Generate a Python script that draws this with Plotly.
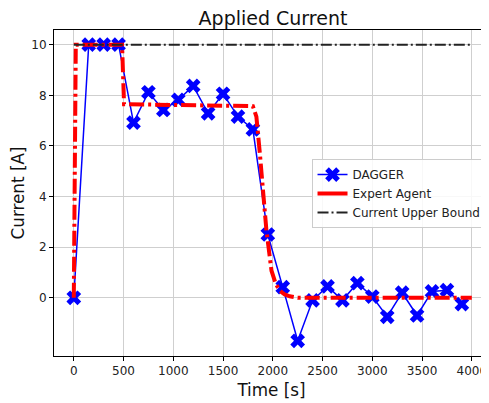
import plotly.graph_objects as go

# DAGGER policy samples
dagger_t = [0, 150, 300, 450, 600, 750, 900, 1050, 1200, 1350, 1500, 1650, 1800,
            1950, 2100, 2250, 2400, 2550, 2700, 2850, 3000, 3150, 3300, 3450, 3600, 3750, 3900]
dagger_i = [0.0, 10.0, 10.0, 10.0, 6.92, 8.12, 7.42, 7.82, 8.37, 7.29, 8.06, 7.16, 6.65,
            2.5, 0.42, -1.7, -0.1, 0.45, -0.1, 0.58, 0.05, -0.75, 0.2, -0.7, 0.25, 0.3, -0.25]

# Expert agent trajectory
expert_t = [0, 20, 485, 505, 1800, 1835, 1870, 1903, 1936, 1987, 2030, 2070, 2120, 2170, 2250, 4000]
expert_i = [0.0, 10.0, 10.0, 7.65, 7.57, 7.16, 5.7, 4.1, 2.66, 1.07, 0.55, 0.28, 0.13, 0.06, 0.0, 0.0]

# Upper bound
bound_t = [0, 4000]
bound_i = [10, 10]

x_ticks = [0, 500, 1000, 1500, 2000, 2500, 3000, 3500, 4000]
y_ticks = [0, 2, 4, 6, 8, 10]

FONT = "DejaVu Sans"

# The page body adds an 8px offset; the figure is sized to fit the window.
W, H = 481, 395

fig = go.Figure()
fig.add_trace(go.Scatter(
    x=dagger_t, y=dagger_i, mode="lines+markers", name="DAGGER",
    line=dict(color="blue", width=1.5),
    marker=dict(symbol="x", size=13, color="blue", line=dict(width=0)),
))
fig.add_trace(go.Scatter(
    x=expert_t, y=expert_i, mode="lines", name="Expert Agent", showlegend=False,
    line=dict(color="red", width=4, dash="15px,4px,3px,4px"),
))
fig.add_trace(go.Scatter(
    x=[None], y=[None], mode="lines", name="Expert Agent",
    line=dict(color="red", width=4),
))
fig.add_trace(go.Scatter(
    x=bound_t, y=bound_i, mode="lines", name="Current Upper Bound",
    line=dict(color="#222222", width=2, dash="11px,3px,2px,3px"),
))

axis_common = dict(
    showgrid=True, gridcolor="#cfcfcf", gridwidth=1,
    showline=True, linecolor="black", linewidth=1,
    ticks="outside", ticklen=4, tickcolor="black",
    tickfont=dict(family=FONT, size=12, color="#222"),
    zeroline=False, automargin=False,
)

fig.update_layout(
    width=W, height=H,
    margin=dict(l=46, r=0, t=22, b=47),
    paper_bgcolor="white", plot_bgcolor="white",
    font=dict(family=FONT, color="#222"),
    title=dict(text="Applied Current", x=(265 / W), xanchor="center",
               y=1 - 10.5 / H, yanchor="middle",
               font=dict(family=FONT, size=19, color="#111")),
    xaxis=dict(range=[-199, 4173], tickvals=x_ticks, mirror=True,
               title=dict(text="Time [s]", font=dict(family=FONT, size=16.8, color="#111"), standoff=6),
               **axis_common),
    yaxis=dict(range=[-2.30, 10.58], tickvals=y_ticks,
               title=dict(text="Current [A]", font=dict(family=FONT, size=16.8, color="#111"), standoff=4),
               **axis_common),
    legend=dict(x=0.592, y=0.604, xanchor="left", yanchor="top",
                bgcolor="rgba(255,255,255,0.85)", bordercolor="#cccccc", borderwidth=1,
                font=dict(family=FONT, size=12, color="#222"),
                tracegroupgap=0, itemwidth=30),
)

fig.write_html("out.html")
